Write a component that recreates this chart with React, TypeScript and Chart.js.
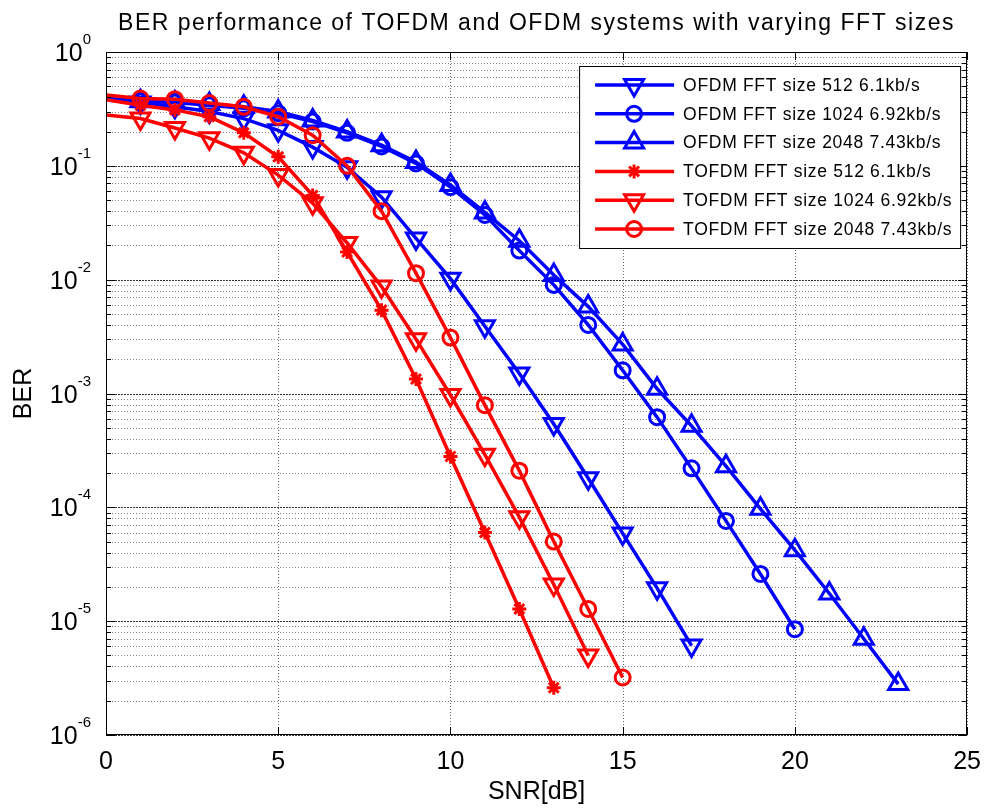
import React, { useEffect, useRef } from 'react';
import { Chart, registerables } from 'chart.js';
import { drawPoint } from 'chart.js/helpers';

Chart.register(...registerables);

const TITLE = 'BER performance of TOFDM and OFDM systems with varying FFT sizes';
const X_LABEL = 'SNR[dB]';
const Y_LABEL = 'BER';

const SNR_DB = [0, 1, 2, 3, 4, 5, 6, 7, 8, 9, 10, 11, 12, 13, 14, 15, 16, 17, 18, 19, 20, 21, 22, 23];

const OFDM_512 = [0.39, 0.36, 0.33, 0.30, 0.26, 0.205, 0.146, 0.097, 0.053, 0.023, 0.0102, 0.0039, 0.0015, 5.4e-4, 1.8e-4, 5.9e-5, 1.95e-5, 6.1e-6];
const OFDM_1024 = [0.39, 0.37, 0.36, 0.34, 0.32, 0.29, 0.245, 0.195, 0.148, 0.105, 0.065, 0.037, 0.018, 0.009, 0.004, 0.0016, 6.2e-4, 2.2e-4, 7.6e-5, 2.6e-5, 8.5e-6];
const OFDM_2048 = [0.39, 0.37, 0.36, 0.35, 0.33, 0.30, 0.25, 0.20, 0.152, 0.108, 0.068, 0.039, 0.022, 0.011, 0.0058, 0.0027, 0.0011, 5.2e-4, 2.3e-4, 9.7e-5, 4.2e-5, 1.75e-5, 7.0e-6, 2.8e-6];
const TOFDM_512 = [0.38, 0.34, 0.31, 0.27, 0.195, 0.12, 0.055, 0.0175, 0.0054, 0.00134, 2.8e-4, 6.0e-5, 1.28e-5, 2.6e-6];
const TOFDM_1024 = [0.28, 0.26, 0.215, 0.175, 0.13, 0.083, 0.047, 0.021, 0.0087, 0.003, 9.7e-4, 2.9e-4, 8.2e-5, 2.1e-5, 5.0e-6];
const TOFDM_2048 = [0.42, 0.39, 0.385, 0.356, 0.33, 0.27, 0.186, 0.10, 0.04, 0.0114, 0.0031, 7.9e-4, 2.1e-4, 5.0e-5, 1.28e-5, 3.2e-6];

const SERIES_LABELS = [
  'OFDM FFT size 512 6.1kb/s',
  'OFDM FFT size 1024 6.92kb/s',
  'OFDM FFT size 2048 7.43kb/s',
  'TOFDM FFT size 512 6.1kb/s',
  'TOFDM FFT size 1024 6.92kb/s',
  'TOFDM FFT size 2048 7.43kb/s',
];
const SERIES_VALUES = [OFDM_512, OFDM_1024, OFDM_2048, TOFDM_512, TOFDM_1024, TOFDM_2048];

const X_TICKS = [0, 5, 10, 15, 20, 25];
const Y_DECADES = [0, -1, -2, -3, -4, -5, -6];

const FONT = "'Liberation Sans', Arial, Helvetica, sans-serif";
const BLUE = '#0000ff';
const RED = '#ff0000';

const STYLES = [
  { color: BLUE, pointStyle: 'triangle', rotation: 180, radius: 11 },
  { color: BLUE, pointStyle: 'circle', rotation: 0, radius: 7.5 },
  { color: BLUE, pointStyle: 'triangle', rotation: 0, radius: 11 },
  { color: RED, pointStyle: 'star', rotation: 0, radius: 7 },
  { color: RED, pointStyle: 'triangle', rotation: 180, radius: 11 },
  { color: RED, pointStyle: 'circle', rotation: 0, radius: 7.5 },
];

const decorPlugin = {
  id: 'matlabDecor',
  beforeDatasetsDraw(chart: any) {
    const { ctx, chartArea: a, scales } = chart;
    const x = scales.x;
    const y = scales.y;
    ctx.save();
    ctx.lineWidth = 1;
    // horizontal grid
    for (const d of Y_DECADES) {
      for (let m = 1; m <= 9; m++) {
        const v = m * Math.pow(10, d);
        if (v > 1.000001 || v < 0.999999e-6) continue;
        const py = Math.round(y.getPixelForValue(v)) + 0.5;
        ctx.beginPath();
        if (m === 1) {
          ctx.setLineDash([2, 1]);
          ctx.strokeStyle = '#333333';
        } else {
          ctx.setLineDash([1, 2]);
          ctx.strokeStyle = '#858585';
        }
        ctx.moveTo(a.left, py);
        ctx.lineTo(a.right, py);
        ctx.stroke();
      }
    }
    // vertical grid
    ctx.setLineDash([1, 2]);
    ctx.strokeStyle = '#666666';
    for (const t of X_TICKS) {
      const px = Math.round(x.getPixelForValue(t)) + 0.5;
      ctx.beginPath();
      ctx.moveTo(px, a.top);
      ctx.lineTo(px, a.bottom);
      ctx.stroke();
    }
    ctx.restore();
  },
  afterDraw(chart: any) {
    const { ctx, chartArea: a, scales } = chart;
    const x = scales.x;
    const y = scales.y;
    ctx.save();
    ctx.setLineDash([]);
    ctx.strokeStyle = '#000';
    ctx.lineWidth = 1;
    // frame
    ctx.strokeRect(Math.round(a.left) + 0.5, Math.round(a.top) + 0.5, Math.round(a.right - a.left) - 1, Math.round(a.bottom - a.top) - 1);
    // inner ticks
    ctx.beginPath();
    for (const d of Y_DECADES) {
      for (let m = 1; m <= 9; m++) {
        const v = m * Math.pow(10, d);
        if (v > 1.000001 || v < 0.999999e-6) continue;
        const py = Math.round(y.getPixelForValue(v)) + 0.5;
        const len = m === 1 ? 9 : 5;
        ctx.moveTo(a.left, py);
        ctx.lineTo(a.left + len, py);
        ctx.moveTo(a.right, py);
        ctx.lineTo(a.right - len, py);
      }
    }
    for (const t of X_TICKS) {
      const px = Math.round(x.getPixelForValue(t)) + 0.5;
      ctx.moveTo(px, a.bottom);
      ctx.lineTo(px, a.bottom - 8);
      ctx.moveTo(px, a.top);
      ctx.lineTo(px, a.top + 8);
    }
    ctx.stroke();

    // y tick labels 10^n
    ctx.fillStyle = '#000';
    ctx.textBaseline = 'alphabetic';
    ctx.textAlign = 'right';
    const labelRight = a.left - 15;
    for (const d of Y_DECADES) {
      const py = y.getPixelForValue(Math.pow(10, d));
      const exp = String(d);
      ctx.font = `15px ${FONT}`;
      const w = ctx.measureText(exp).width;
      ctx.fillText(exp, labelRight, py - 8);
      ctx.font = `25px ${FONT}`;
      ctx.fillText('10', labelRight - w, py + 9);
    }

    // title
    ctx.textAlign = 'center';
    ctx.font = `23px ${FONT}`;
    (ctx as any).letterSpacing = '1.5px';
    ctx.fillText(TITLE, (a.left + a.right) / 2, a.top - 22);
    (ctx as any).letterSpacing = '0px';

    // legend
    const bx = a.right - 388;
    const by = a.top + 14;
    const bw = 381;
    const bh = 182;
    ctx.fillStyle = '#fff';
    ctx.fillRect(bx, by, bw, bh);
    ctx.strokeStyle = '#000';
    ctx.lineWidth = 1;
    ctx.strokeRect(bx + 0.5, by + 0.5, bw, bh);
    SERIES_LABELS.forEach((label, i) => {
      const st = STYLES[i];
      const ry = by + 19 + i * 28.8;
      ctx.strokeStyle = st.color;
      ctx.lineWidth = 3.5;
      ctx.beginPath();
      ctx.moveTo(bx + 16, ry);
      ctx.lineTo(bx + 95, ry);
      ctx.stroke();
      ctx.fillStyle = 'rgba(0,0,0,0)';
      ctx.lineWidth = 3;
      drawPoint(ctx, { pointStyle: st.pointStyle, rotation: st.rotation, radius: st.radius, borderWidth: 3 }, bx + 55, ry);
      ctx.fillStyle = '#000';
      ctx.textAlign = 'left';
      ctx.textBaseline = 'middle';
      ctx.font = `17.5px ${FONT}`;
      (ctx as any).letterSpacing = '0.7px';
      ctx.fillText(label, bx + 104, ry + 1);
      (ctx as any).letterSpacing = '0px';
    });
    ctx.restore();
  },
};

export default function App() {
  const canvasRef = useRef<HTMLCanvasElement | null>(null);

  useEffect(() => {
    const canvas = canvasRef.current;
    if (!canvas) return;
    const datasets = SERIES_VALUES.map((vals, i) => {
      const st = STYLES[i];
      return {
        label: SERIES_LABELS[i],
        data: vals.map((v, j) => ({ x: SNR_DB[j], y: v })),
        borderColor: st.color,
        backgroundColor: 'rgba(0,0,0,0)',
        borderWidth: 3.5,
        pointStyle: st.pointStyle,
        pointRotation: st.rotation,
        pointRadius: (c: any) => (c.dataIndex === 0 ? 0 : st.radius),
        pointBorderWidth: 3,
        pointBorderColor: st.color,
        pointBackgroundColor: 'rgba(0,0,0,0)',
        tension: 0,
        fill: false,
        order: SERIES_VALUES.length - i,
      };
    });
    const chart = new Chart(canvas, {
      type: 'line',
      data: { datasets },
      plugins: [decorPlugin],
      options: {
        animation: false,
        responsive: false,
        devicePixelRatio: 1,
        layout: { padding: { left: 0, right: 25, top: 52, bottom: 0 } },
        plugins: {
          legend: { display: false },
          title: { display: false },
          tooltip: { enabled: false },
        },
        scales: {
          x: {
            type: 'linear',
            min: 0,
            max: 25,
            afterFit: (s: any) => {
              s.height = 75;
            },
            grid: { display: false, drawTicks: false },
            border: { display: false },
            ticks: {
              stepSize: 5,
              color: '#000',
              padding: 12,
              font: { size: 25, family: FONT },
            },
            title: {
              display: true,
              text: X_LABEL,
              color: '#000',
              font: { size: 25, family: FONT },
              padding: { top: 0, bottom: 3 },
            },
          },
          y: {
            type: 'logarithmic',
            min: 1e-6,
            max: 1,
            afterFit: (s: any) => {
              s.width = 106;
            },
            grid: { display: false, drawTicks: false },
            border: { display: false },
            ticks: { display: false },
            title: {
              display: true,
              text: Y_LABEL,
              color: '#000',
              font: { size: 25, family: FONT },
              padding: { top: 9, bottom: 0 },
            },
          },
        },
      },
    } as any);
    return () => chart.destroy();
  }, []);

  return (
    <div style={{ position: 'fixed', left: 0, top: 0, width: 993, height: 810, background: '#fff' }}>
      <canvas ref={canvasRef} width={993} height={810} style={{ display: 'block' }} />
    </div>
  );
}
